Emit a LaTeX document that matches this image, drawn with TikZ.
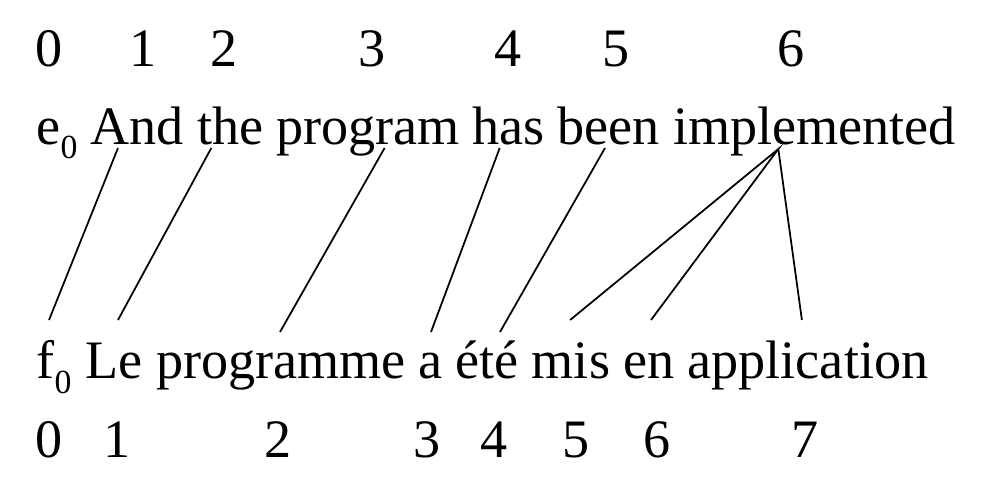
\documentclass[tikz,border=0pt]{standalone}
\usepackage{fontspec}
\setmainfont{Liberation Serif}
\newcommand\nulsub[1]{\raisebox{-#1}{\fontsize{9.6}{11}\selectfont 0}}

\begin{document}
\begin{tikzpicture}[
 x=0.01cm,y=-0.01cm,
 every node/.style={font=\fontsize{15.4}{18}\selectfont,inner sep=0pt},
 word/.style={anchor=base west},
 idx/.style={anchor=base},
 link/.style={line width=0.5pt}
]
 \useasboundingbox (0,0) rectangle (994,488);

 % English positions
 \node[idx] (ei0) at (49,67) {0};
 \node[idx] (ei1) at (143,67) {1};
 \node[idx] (ei2) at (224,67) {2};
 \node[idx] (ei3) at (372,67) {3};
 \node[idx] (ei4) at (508,67) {4};
 \node[idx] (ei5) at (616,67) {5};
 \node[idx] (ei6) at (791,67) {6};

 \node[word] (e0) at (36,145) {e\nulsub{0.13cm}};
 \node[word] (wAnd) at (90,145) {And};
 \node[word] (wthe) at (196.3,145) {the};
 \node[word] (wprogram) at (275.6,145) {program};
 \node[word] (whas) at (471.7,145) {has};
 \node[word] (wbeen) at (557,145) {been};
 \node[word] (wimpl) at (672.3,145) {implemented};

 % French sentence and positions
 \node[word] (f0) at (36,378) {f\nulsub{0.15cm}};
 \node[word] (wLe) at (85,378) {Le};
 \node[word] (wprogramme) at (155.4,378) {programme};
 \node[word] (wa) at (417.4,378) {a};
 \node[word] (wete) at (454.8,378) {été};
 \node[word] (wmis) at (531.1,378) {mis};
 \node[word] (wen) at (622.5,378) {en};
 \node[word] (wappl) at (686.9,378) {application};

 \node[idx] (fj0) at (49,457) {0};
 \node[idx] (fj1) at (117,457) {1};
 \node[idx] (fj2) at (278,457) {2};
 \node[idx] (fj3) at (427,457) {3};
 \node[idx] (fj4) at (494,457) {4};
 \node[idx] (fj5) at (576,457) {5};
 \node[idx] (fj6) at (657,457) {6};
 \node[idx] (fj7) at (805,457) {7};

 % alignment links
 \draw[link] ([shift={(28,3)}]wAnd.base west) -- ([shift={(13,-58)}]f0.base west);
 \draw[link] ([shift={(15,3)}]wthe.base west) -- ([shift={(33,-58)}]wLe.base west);
 \draw[link] ([shift={(109,3)}]wprogram.base west) -- ([shift={(124.6,-46)}]wprogramme.base west);
 \draw[link] ([shift={(28,3)}]whas.base west) -- ([shift={(13.6,-46)}]wa.base west);
 \draw[link] ([shift={(48,3)}]wbeen.base west) -- ([shift={(45.2,-46)}]wete.base west);
 \draw[link] ([shift={(39,-58)}]wmis.base west) -- ([shift={(106,4)}]wimpl.base west)
  -- ([shift={(28.5,-58)}]wen.base west);
 \draw[link] ([shift={(106,4)}]wimpl.base west) -- ([shift={(115,-58)}]wappl.base west);
\end{tikzpicture}
\end{document}
